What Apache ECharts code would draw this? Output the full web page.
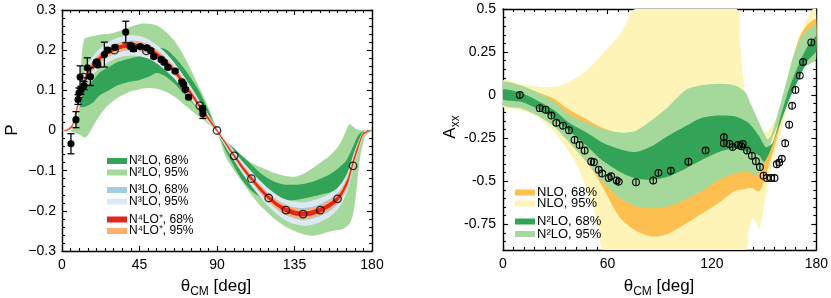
<!DOCTYPE html>
<html><head><meta charset="utf-8">
<script src="https://cdn.jsdelivr.net/npm/echarts@6/dist/echarts.min.js"></script>
<style>html,body{margin:0;padding:0;background:#fff}#c{width:831px;height:298px}</style>
</head><body><div id="c"></div>
<script>
// ---------- LEFT PANEL (P) ----------
const leftXTicks = [0, 45, 90, 135, 180];
const leftYTicks = [-0.3, -0.2, -0.1, 0, 0.1, 0.2, 0.3];

// N2LO 95% band
const n2X95 = [0,4,8,10,11.5,13,15,20,25,30,35,40,45,50,55,60,65,70,75,80,85,90,95,100,105,110,115,120,125,130,135,140,145,150,155,160,163,165,167,169,171,173,176,180];
const n2Hi95 = [0,0.002,0.012,0.06,0.19,0.228,0.232,0.237,0.24,0.243,0.25,0.258,0.265,0.266,0.262,0.247,0.225,0.192,0.15,0.105,0.058,0.005,-0.035,-0.052,-0.066,-0.08,-0.091,-0.1,-0.108,-0.113,-0.115,-0.108,-0.095,-0.08,-0.065,-0.042,-0.02,0.0,0.016,0.01,0.003,0.001,0,0];
const n2Lo95 = [0,-0.002,-0.006,-0.01,-0.014,-0.018,-0.012,0.025,0.055,0.075,0.088,0.098,0.103,0.106,0.104,0.097,0.085,0.068,0.05,0.033,0.016,-0.005,-0.065,-0.1,-0.13,-0.16,-0.187,-0.207,-0.225,-0.24,-0.25,-0.258,-0.262,-0.258,-0.252,-0.248,-0.245,-0.24,-0.232,-0.21,-0.15,-0.07,-0.015,0];
// N2LO 68% band
const n2X68 = [10.5,12,15,18,22,26,32,40,45,50,55,60,65,70,75,80,85,90,95,100,105,110,115,120,125,130,135,140,145,150,155,160,165,168,170,172,175,180];
const n2Hi68 = [0.07,0.09,0.112,0.125,0.145,0.155,0.17,0.18,0.185,0.196,0.205,0.203,0.185,0.16,0.13,0.095,0.05,0.003,-0.025,-0.045,-0.065,-0.085,-0.105,-0.12,-0.13,-0.135,-0.135,-0.133,-0.128,-0.12,-0.11,-0.095,-0.075,-0.05,-0.03,-0.012,-0.002,0];
const n2Lo68 = [0.06,0.058,0.062,0.07,0.088,0.097,0.112,0.122,0.126,0.133,0.143,0.135,0.118,0.095,0.072,0.048,0.022,-0.003,-0.05,-0.09,-0.125,-0.15,-0.165,-0.172,-0.175,-0.175,-0.173,-0.17,-0.165,-0.16,-0.155,-0.145,-0.13,-0.105,-0.075,-0.035,-0.008,0];
// N3LO / N4LO+ : central curve and band half-widths
const midX = [0,3,6,9,12,15,20,25,30,35,40,45,50,55,60,65,70,75,80,85,90,95,100,105,110,115,120,125,130,135,140,145,150,155,160,163,166,169,172,175,180];
const mid = [0,0.001,0.012,0.06,0.11,0.143,0.172,0.19,0.202,0.209,0.212,0.21,0.203,0.19,0.172,0.15,0.122,0.092,0.06,0.03,0,-0.032,-0.063,-0.093,-0.12,-0.145,-0.167,-0.185,-0.198,-0.205,-0.208,-0.205,-0.198,-0.187,-0.17,-0.152,-0.125,-0.08,-0.04,-0.008,0];
const n3Half95 = [0,0.004,0.01,0.015,0.02,0.022,0.024,0.025,0.025,0.025,0.025,0.025,0.024,0.023,0.022,0.02,0.018,0.016,0.013,0.01,0.006,0.009,0.012,0.015,0.018,0.02,0.022,0.024,0.026,0.028,0.029,0.03,0.03,0.029,0.027,0.025,0.022,0.018,0.012,0.005,0];
const n3Half68 = [0,0.002,0.005,0.008,0.01,0.011,0.012,0.012,0.012,0.012,0.012,0.012,0.012,0.011,0.011,0.01,0.009,0.008,0.007,0.005,0.004,0.005,0.006,0.008,0.009,0.01,0.011,0.012,0.013,0.014,0.015,0.015,0.015,0.015,0.014,0.013,0.012,0.01,0.007,0.003,0];
const n4Half95 = [0,0.002,0.004,0.008,0.01,0.011,0.011,0.011,0.011,0.011,0.011,0.011,0.011,0.011,0.01,0.01,0.009,0.008,0.007,0.006,0.004,0.005,0.006,0.007,0.008,0.009,0.01,0.011,0.012,0.012,0.012,0.012,0.012,0.012,0.012,0.012,0.011,0.01,0.008,0.004,0];
const n4Half68 = [0,0.001,0.002,0.004,0.005,0.005,0.005,0.005,0.005,0.005,0.005,0.005,0.005,0.005,0.005,0.005,0.005,0.004,0.004,0.003,0.002,0.002,0.003,0.004,0.004,0.005,0.005,0.005,0.006,0.006,0.006,0.006,0.006,0.006,0.006,0.006,0.006,0.005,0.004,0.002,0];
// data (filled, with error bars)
const lFillX = [5.2,8.1,9.3,9.9,10.5,11,12.8,14.7,16.5,20.2,20.8,24.6,26.4,30.8,37,40,41.5,45.4,49.3,51.6,53.3,57.6,59.3,61.5,65.7,69.6,70.6,71.6,73.5,81.5,81.8];
const lFillY = [-0.033,0.027,0.077,0.094,0.133,0.1,0.112,0.156,0.134,0.17,0.163,0.189,0.2,0.207,0.245,0.21,0.203,0.209,0.206,0.199,0.184,0.177,0.17,0.157,0.148,0.121,0.115,0.102,0.083,0.055,0.042];
const lFillErr = [0.025,0.02,0.012,0.012,0.028,0.01,0.01,0.025,0.022,0.005,0.005,0.031,0.005,0.005,0.027,0.005,0.006,0.004,0.004,0.004,0.004,0.004,0.004,0.004,0.004,0.004,0.004,0.004,0.004,0.006,0.012];
// data (open circles)
const lOpenX = [12.5,20,30.5,40,49,80,90,100,110,120,130,140,150,160,169];
const lOpenY = [0.133,0.168,0.2,0.21,0.198,0.062,0,-0.063,-0.12,-0.168,-0.198,-0.208,-0.198,-0.17,-0.088];

// ---------- RIGHT PANEL (Axx) ----------
const rightXTicks = [0, 60, 120, 180];
const rightYTicks = [-0.75, -0.5, -0.25, 0, 0.25, 0.5];
// NLO 95%
const nloHi95X = [0,10,19,29,38,48,57,67,72,76,134,136,138,140,142,144,147,150,153,156,160,163,167,171,175,178,180];
const nloHi95 = [0.085,0.066,0.05,0.047,0.076,0.142,0.237,0.35,0.445,0.5,0.5,0.3,0.1,-0.05,-0.15,-0.2,-0.22,-0.22,-0.2,-0.15,-0.05,0.05,0.2,0.35,0.45,0.5,0.5];
const nloLo95X = [0,10,19,25,29,33,38,43,48,52,55,58,139,141,143,145,147,149,151,153,156,160,165,170,175,180];
const nloLo95 = [-0.07,-0.09,-0.12,-0.17,-0.21,-0.26,-0.33,-0.42,-0.54,-0.66,-0.78,-0.9,-0.9,-0.8,-0.72,-0.73,-0.78,-0.7,-0.58,-0.48,-0.35,-0.2,0.0,0.15,0.25,0.3];
// NLO 68%
const nloHi68X = [0,10,19,29,38,48,57,67,76,86,95,105,114,124,133,139,143,147,150,153,156,160,165,170,175,180];
const nloHi68 = [0.06,0.045,0.02,-0.02,-0.085,-0.14,-0.19,-0.22,-0.22,-0.18,-0.12,-0.05,-0.02,-0.02,-0.05,-0.1,-0.2,-0.3,-0.35,-0.33,-0.25,-0.1,0.15,0.33,0.41,0.44];
const nloLo68X = [0,10,19,29,38,48,53,57,67,76,86,95,105,114,124,133,139,143,147,150,153,156,160,165,170,175,180];
const nloLo68 = [-0.05,-0.07,-0.11,-0.17,-0.27,-0.39,-0.46,-0.53,-0.71,-0.786,-0.822,-0.805,-0.748,-0.69,-0.625,-0.559,-0.545,-0.54,-0.56,-0.5,-0.4,-0.3,-0.15,0.0,0.15,0.22,0.25];
// N2LO 95%
const rN2Hi95X = [0,10,19,29,38,48,57,67,76,86,95,105,114,124,133,139,143,149,152,154,158,162,166,171,175,180];
const rN2Hi95 = [0.076,0.057,0.019,-0.038,-0.114,-0.161,-0.199,-0.218,-0.208,-0.142,-0.066,0.03,0.057,0.066,0.057,0.019,-0.066,-0.2,-0.256,-0.237,-0.104,0.047,0.2,0.33,0.38,0.41];
const rN2Lo95X = [0,10,19,29,38,48,57,67,76,86,95,105,114,124,133,141,145,149,152,156,162,168,173,180];
const rN2Lo95 = [-0.057,-0.076,-0.114,-0.18,-0.275,-0.388,-0.502,-0.597,-0.644,-0.657,-0.644,-0.606,-0.559,-0.492,-0.455,-0.445,-0.464,-0.426,-0.33,-0.218,-0.085,0.066,0.161,0.208];
// N2LO 68%
const rN2Hi68X = [0,10,19,29,38,48,57,67,76,86,95,105,114,124,133,141,147,151,155,159,164,170,175,180];
const rN2Hi68 = [0.032,0.013,-0.028,-0.085,-0.161,-0.218,-0.275,-0.313,-0.331,-0.294,-0.237,-0.18,-0.133,-0.119,-0.123,-0.161,-0.237,-0.303,-0.275,-0.142,0.028,0.18,0.284,0.341];
const rN2Lo68X = [0,10,19,29,38,48,57,67,76,86,95,105,114,124,133,141,147,150,154,158,164,170,175,180];
const rN2Lo68 = [-0.025,-0.038,-0.076,-0.133,-0.208,-0.294,-0.379,-0.445,-0.483,-0.492,-0.473,-0.426,-0.379,-0.331,-0.309,-0.331,-0.35,-0.388,-0.313,-0.199,-0.038,0.095,0.199,0.256];
// data
const rDataX = [9.7,21.1,24.5,27.8,30.6,34.5,37.9,41.1,44,46.9,50.7,52.2,55,57,60.8,62.1,65.3,66.5,76.4,86.3,89.3,96.4,106.5,116.4,126.9,126.9,130.1,132,135,137,137.7,140.2,143,145.3,147.6,149.7,151.6,153.9,156,157.3,158.7,160.2,162.1,164.4,166.1,168,170.5,172.4,177.1];
const rDataY = [0.0,-0.076,-0.085,-0.119,-0.161,-0.178,-0.204,-0.26,-0.29,-0.322,-0.386,-0.39,-0.434,-0.456,-0.482,-0.472,-0.496,-0.504,-0.506,-0.496,-0.452,-0.44,-0.387,-0.322,-0.245,-0.28,-0.284,-0.302,-0.29,-0.298,-0.284,-0.322,-0.353,-0.384,-0.418,-0.468,-0.482,-0.482,-0.482,-0.402,-0.392,-0.37,-0.28,-0.172,-0.062,0.03,0.113,0.192,0.306];

// ---------- colours ----------
const C = {
  n2d: '#33a457', n2l: '#a5d99c', n3d: '#a3cbe2', n3l: '#dce9f5',
  n4d: '#e1261f', n4l: '#fdae69', nlod: '#fdbf50', nlol: '#fff4b8'
};
const FONT = "'Liberation Sans', Arial, Helvetica, sans-serif";

function band(ax, xsHi, hi, xsLo, lo, color, z) {
  const pts = [];
  xsHi.forEach((x, i) => pts.push([x, hi[i]]));
  for (let i = xsLo.length - 1; i >= 0; i--) pts.push([xsLo[i], lo[i]]);
  return {
    type: 'custom', xAxisIndex: ax, yAxisIndex: ax, z: z, silent: true, animation: false,
    data: pts,
    renderItem(params, api) {
      if (params.dataIndex !== 0) return null;
      const cs = params.coordSys;
      return {
        type: 'polygon',
        shape: { points: pts.map(p => api.coord(p)), smooth: 0.25 },
        style: { fill: color },
        clipPath: { type: 'rect', shape: { x: cs.x, y: cs.y, width: cs.width, height: cs.height } }
      };
    }
  };
}
function sub(a, b) { return a.map((v, i) => v - b[i]); }
function add(a, b) { return a.map((v, i) => v + b[i]); }

function fmtLeft(v) {
  const r = Math.round(v * 10) / 10;
  if (r === 0) return '0';
  return (r < 0 ? '\u2212' : '') + Math.abs(r).toFixed(1);
}
function fmtRight(v) {
  const r = Math.round(v * 100) / 100;
  if (Math.abs(r / 0.25 - Math.round(r / 0.25)) > 1e-6) return '';
  if (r === 0) return '0';
  return String(r);
}

const axisLine = { show: true, onZero: false, lineStyle: { color: '#000', width: 1.4 } };
const tickStyle = { color: '#000', width: 1.1 };
const labelStyle = { color: '#000', fontSize: 14, fontFamily: FONT };

function xAx(grid, pos, interval, minorSplit, show) {
  return {
    type: 'value', gridIndex: grid, position: pos, min: 0, max: 180, interval: interval,
    axisLine: axisLine,
    axisTick: { show: true, inside: true, length: 5, lineStyle: tickStyle },
    minorTick: { show: true, splitNumber: minorSplit, length: 3, lineStyle: tickStyle },
    axisLabel: show ? Object.assign({ margin: 7 }, labelStyle) : { show: false },
    splitLine: { show: false }
  };
}

const series = [
  // left bands
  band(0, n2X95, n2Hi95, n2X95, n2Lo95, C.n2l, 1),
  band(0, n2X68, n2Hi68, n2X68, n2Lo68, C.n2d, 2),
  band(0, midX, add(mid, n3Half95), midX, sub(mid, n3Half95), C.n3l, 3),
  band(0, midX, add(mid, n3Half68), midX, sub(mid, n3Half68), C.n3d, 4),
  band(0, midX, add(mid, n4Half95), midX, sub(mid, n4Half95), C.n4l, 5),
  band(0, midX, add(mid, n4Half68), midX, sub(mid, n4Half68), C.n4d, 6),
  // left filled points with error bars
  {
    type: 'custom', xAxisIndex: 0, yAxisIndex: 0, z: 10, silent: true, animation: false,
    data: lFillX.map((x, i) => [x, lFillY[i], lFillErr[i]]),
    renderItem(params, api) {
      const x = api.value(0), y = api.value(1), e = api.value(2);
      const t = api.coord([x, y + e]), b = api.coord([x, y - e]), c = api.coord([x, y]);
      const st = { stroke: '#000', lineWidth: 1.3 };
      return { type: 'group', children: [
        { type: 'line', shape: { x1: t[0], y1: t[1], x2: b[0], y2: b[1] }, style: st },
        { type: 'line', shape: { x1: t[0] - 3.5, y1: t[1], x2: t[0] + 3.5, y2: t[1] }, style: st },
        { type: 'line', shape: { x1: b[0] - 3.5, y1: b[1], x2: b[0] + 3.5, y2: b[1] }, style: st },
        { type: 'circle', shape: { cx: c[0], cy: c[1], r: 3.6 }, style: { fill: '#000' } }
      ]};
    }
  },
  {
    type: 'scatter', xAxisIndex: 0, yAxisIndex: 0, z: 11, silent: true, animation: false,
    symbol: 'circle', symbolSize: 7.5,
    itemStyle: { color: 'rgba(0,0,0,0)', borderColor: '#000', borderWidth: 1.3 },
    data: lOpenX.map((x, i) => [x, lOpenY[i]])
  },
  // right bands
  band(2, nloHi95X, nloHi95, nloLo95X, nloLo95, C.nlol, 1),
  band(2, nloHi68X, nloHi68, nloLo68X, nloLo68, C.nlod, 2),
  band(2, rN2Hi95X, rN2Hi95, rN2Lo95X, rN2Lo95, C.n2l, 3),
  band(2, rN2Hi68X, rN2Hi68, rN2Lo68X, rN2Lo68, C.n2d, 4),
  {
    type: 'custom', xAxisIndex: 2, yAxisIndex: 2, z: 10, silent: true, animation: false,
    data: rDataX.map((x, i) => [x, rDataY[i]]),
    renderItem(params, api) {
      const c = api.coord([api.value(0), api.value(1)]);
      const st = { stroke: '#000', lineWidth: 1.1, fill: null };
      return { type: 'group', children: [
        { type: 'circle', shape: { cx: c[0], cy: c[1], r: 3.4 }, style: { stroke: '#000', lineWidth: 1.1, fill: 'rgba(0,0,0,0)' } },
        { type: 'line', shape: { x1: c[0], y1: c[1] - 3.4, x2: c[0], y2: c[1] + 3.4 }, style: st }
      ]};
    }
  }
];

function legendItems(x0, tx, rows, fs) {
  const out = [];
  rows.forEach(r => {
    out.push({ type: 'rect', shape: { x: x0, y: r.y - 3, width: 20, height: 6 }, style: { fill: r.c }, z: 50 });
    out.push({ type: 'text', x: tx, y: r.y, z: 50, style: { text: r.t, fill: '#000', font: fs + 'px ' + FONT, textVerticalAlign: 'middle' } });
  });
  return out;
}

const graphic = [].concat(
  legendItems(107, 129, [
    { y: 161, c: C.n2d, t: 'N\u00b2LO, 68%' },
    { y: 172.5, c: C.n2l, t: 'N\u00b2LO, 95%' },
    { y: 190, c: C.n3d, t: 'N\u00b3LO, 68%' },
    { y: 201.5, c: C.n3l, t: 'N\u00b3LO, 95%' },
    { y: 219.5, c: C.n4d, t: 'N\u2074LO\u207a, 68%' },
    { y: 231, c: C.n4l, t: 'N\u2074LO\u207a, 95%' }
  ], 12),
  legendItems(515, 537, [
    { y: 192.5, c: C.nlod, t: 'NLO, 68%' },
    { y: 203.5, c: C.nlol, t: 'NLO, 95%' },
    { y: 221.5, c: C.n2d, t: 'N\u00b2LO, 68%' },
    { y: 234, c: C.n2l, t: 'N\u00b2LO, 95%' }
  ], 13),
  [
    { type: 'text', x: 12, y: 130, rotation: Math.PI / 2, style: { text: 'P', font: '17px ' + FONT, fill: '#000', textAlign: 'center', textVerticalAlign: 'middle' } },
    { type: 'text', x: 216, y: 285, style: {
      text: '{a|\u03b8}{b|CM}{a| [deg]}', textAlign: 'center', textVerticalAlign: 'middle',
      rich: { a: { fontSize: 17, fontFamily: FONT, fill: '#000', lineHeight: 20, verticalAlign: 'bottom' },
              b: { fontSize: 12, fontFamily: FONT, fill: '#000', lineHeight: 12, verticalAlign: 'bottom', padding: [0, 0, -3, 0] } } } },
    { type: 'text', x: 449, y: 127, rotation: Math.PI / 2, style: {
      text: '{a|A}{b|xx}', textAlign: 'center', textVerticalAlign: 'middle',
      rich: { a: { fontSize: 17, fontFamily: FONT, fill: '#000', lineHeight: 20, verticalAlign: 'bottom' },
              b: { fontSize: 12, fontFamily: FONT, fill: '#000', lineHeight: 12, verticalAlign: 'bottom', padding: [0, 0, -3, 0] } } } },
    { type: 'text', x: 659, y: 285, style: {
      text: '{a|\u03b8}{b|CM}{a| [deg]}', textAlign: 'center', textVerticalAlign: 'middle',
      rich: { a: { fontSize: 17, fontFamily: FONT, fill: '#000', lineHeight: 20, verticalAlign: 'bottom' },
              b: { fontSize: 12, fontFamily: FONT, fill: '#000', lineHeight: 12, verticalAlign: 'bottom', padding: [0, 0, -3, 0] } } } }
  ]
);

const option = {
  animation: false,
  backgroundColor: '#fff',
  grid: [
    { left: 62, top: 10, width: 310, height: 241 },
    { left: 503, top: 9, width: 315, height: 241 }
  ],
  xAxis: [
    xAx(0, 'bottom', 45, 9, true),
    xAx(0, 'top', 45, 9, false),
    xAx(1, 'bottom', 60, 10, true),
    xAx(1, 'top', 60, 10, false)
  ],
  yAxis: [
    { type: 'value', gridIndex: 0, position: 'left', min: -0.3, max: 0.3, interval: 0.1,
      axisLine: axisLine, axisTick: { inside: true, length: 5, lineStyle: tickStyle },
      minorTick: { show: true, splitNumber: 5, length: 3, lineStyle: tickStyle },
      axisLabel: Object.assign({ margin: 6, formatter: fmtLeft }, labelStyle), splitLine: { show: false } },
    { type: 'value', gridIndex: 0, position: 'right', min: -0.3, max: 0.3, interval: 0.1,
      axisLine: axisLine, axisTick: { inside: true, length: 5, lineStyle: tickStyle },
      minorTick: { show: true, splitNumber: 5, length: 3, lineStyle: tickStyle },
      axisLabel: { show: false }, splitLine: { show: false } },
    { type: 'value', gridIndex: 1, position: 'left', min: -0.9, max: 0.5, interval: 0.05,
      axisLine: axisLine, axisTick: { inside: true, length: 3, lineStyle: tickStyle },
      axisLabel: Object.assign({ margin: 7, formatter: fmtRight }, labelStyle), splitLine: { show: false } },
    { type: 'value', gridIndex: 1, position: 'right', min: -0.9, max: 0.5, interval: 0.05,
      axisLine: axisLine, axisTick: { inside: true, length: 3, lineStyle: tickStyle },
      axisLabel: { show: false }, splitLine: { show: false } },
    { type: 'value', gridIndex: 1, position: 'left', min: -0.9, max: 0.5,
      axisLine: { show: false, onZero: false }, axisTick: { inside: true, length: 5, lineStyle: tickStyle, customValues: rightYTicks },
      axisLabel: { show: false }, splitLine: { show: false } },
    { type: 'value', gridIndex: 1, position: 'right', min: -0.9, max: 0.5,
      axisLine: { show: false, onZero: false }, axisTick: { inside: true, length: 5, lineStyle: tickStyle, customValues: rightYTicks },
      axisLabel: { show: false }, splitLine: { show: false } }
  ],
  series: series,
  graphic: graphic
};

const chart = echarts.init(document.getElementById('c'));
chart.setOption(option);
</script></body></html>
